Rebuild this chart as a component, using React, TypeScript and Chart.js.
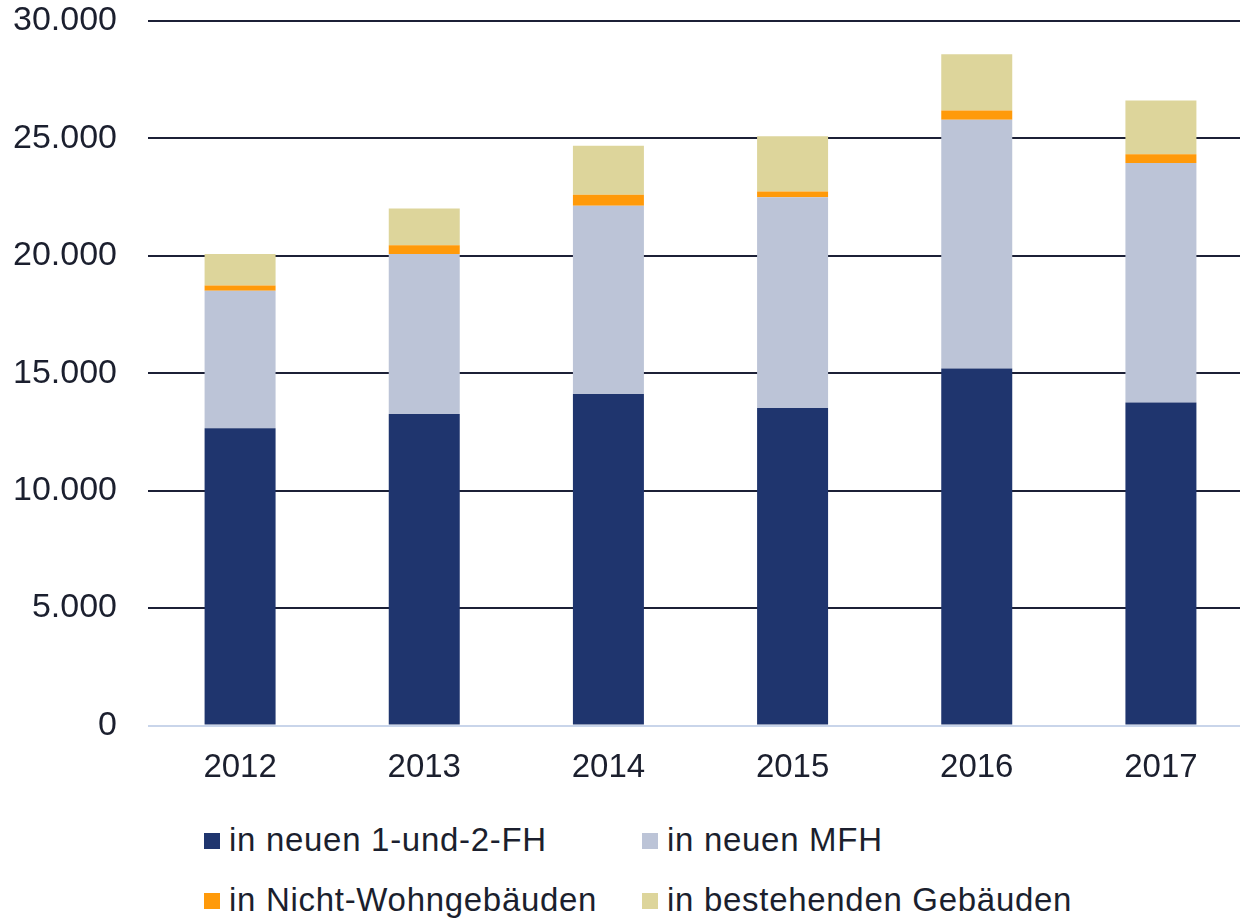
import React, { useEffect, useRef } from 'react';
import { Chart, registerables } from 'chart.js';

Chart.register(...registerables);

const years = ['2012', '2013', '2014', '2015', '2016', '2017'];
const neueFH = [12660, 13270, 14120, 13520, 15200, 13750];
const neueMFH = [5850, 6810, 8010, 8980, 10590, 10200];
const nichtWohn = [230, 370, 470, 240, 400, 380];
const bestehend = [1340, 1570, 2090, 2350, 2390, 2280];
const seriesNames = ['in neuen 1-und-2-FH', 'in neuen MFH', 'in Nicht-Wohngebäuden', 'in bestehenden Gebäuden'];
const seriesColors = ['#1f356e', '#bcc4d7', '#ff9a0a', '#ddd59b'];
const yMax = 30000;
const yStep = 5000;

const TEXT = '#1b1f2e';
const FONT = '"Liberation Sans", Arial, sans-serif';

const fmt = (v: number) => String(v).replace(/\B(?=(\d{3})+(?!\d))/g, '.');

export default function App() {
  const ref = useRef<HTMLCanvasElement | null>(null);

  useEffect(() => {
    if (!ref.current) return;
    const data = [neueFH, neueMFH, nichtWohn, bestehend];
    const chart = new Chart(ref.current, {
      type: 'bar',
      data: {
        labels: years,
        datasets: data.map((d, i) => ({
          label: seriesNames[i],
          data: d,
          backgroundColor: seriesColors[i],
          borderWidth: 0,
          categoryPercentage: 1,
          barPercentage: 0.3855,
        })),
      },
      options: {
        responsive: false,
        animation: false,
        devicePixelRatio: 1,
        layout: { padding: { top: 21, right: 0, bottom: 0, left: 0 } },
        plugins: {
          legend: { display: false },
          tooltip: { enabled: false },
          title: { display: false },
        },
        scales: {
          x: {
            stacked: true,
            offset: true,
            grid: { display: false, drawTicks: false },
            border: { display: false },
            ticks: {
              color: TEXT,
              font: { family: FONT, size: 33 },
              padding: 23,
              maxRotation: 0,
              autoSkip: false,
            },
            afterFit: (s: any) => {
              s.height = 74.5;
              s.paddingLeft = 0;
              s.paddingRight = 0;
            },
          },
          y: {
            stacked: true,
            min: 0,
            max: yMax,
            grid: {
              drawTicks: false,
              lineWidth: 2,
              color: (ctx: any) => (ctx.tick && ctx.tick.value === 0 ? '#c9d5ea' : '#1c2036'),
            },
            border: { display: false },
            ticks: {
              stepSize: yStep,
              color: TEXT,
              font: { family: FONT, size: 34 },
              padding: 31,
              callback: (v: any) => fmt(Number(v)),
            },
            afterFit: (s: any) => {
              s.width = 148;
              s.paddingTop = 0;
              s.paddingBottom = 0;
            },
          },
        },
      },
    });
    return () => chart.destroy();
  }, []);

  const legendPos = [
    { left: 204, top: 821 },
    { left: 642, top: 821 },
    { left: 204, top: 881 },
    { left: 642, top: 881 },
  ];

  return (
    <div
      style={{
        position: 'fixed',
        left: 0,
        top: 0,
        width: 1240,
        height: 920,
        overflow: 'hidden',
        background: '#ffffff',
      }}
    >
      <canvas ref={ref} width={1253} height={800} style={{ display: 'block', width: 1253, height: 800 }} />
      {seriesNames.map((name, i) => (
        <div
          key={name}
          style={{
            position: 'absolute',
            left: legendPos[i].left,
            top: legendPos[i].top,
            height: 38,
            lineHeight: '38px',
            display: 'flex',
            alignItems: 'center',
            fontFamily: FONT,
            fontSize: 33,
            letterSpacing: '0.7px',
            color: TEXT,
            whiteSpace: 'nowrap',
          }}
        >
          <span
            style={{
              display: 'inline-block',
              width: 16,
              height: 16,
              background: seriesColors[i],
              marginRight: 9,
              marginTop: 2,
            }}
          />
          <span>{name}</span>
        </div>
      ))}
    </div>
  );
}
